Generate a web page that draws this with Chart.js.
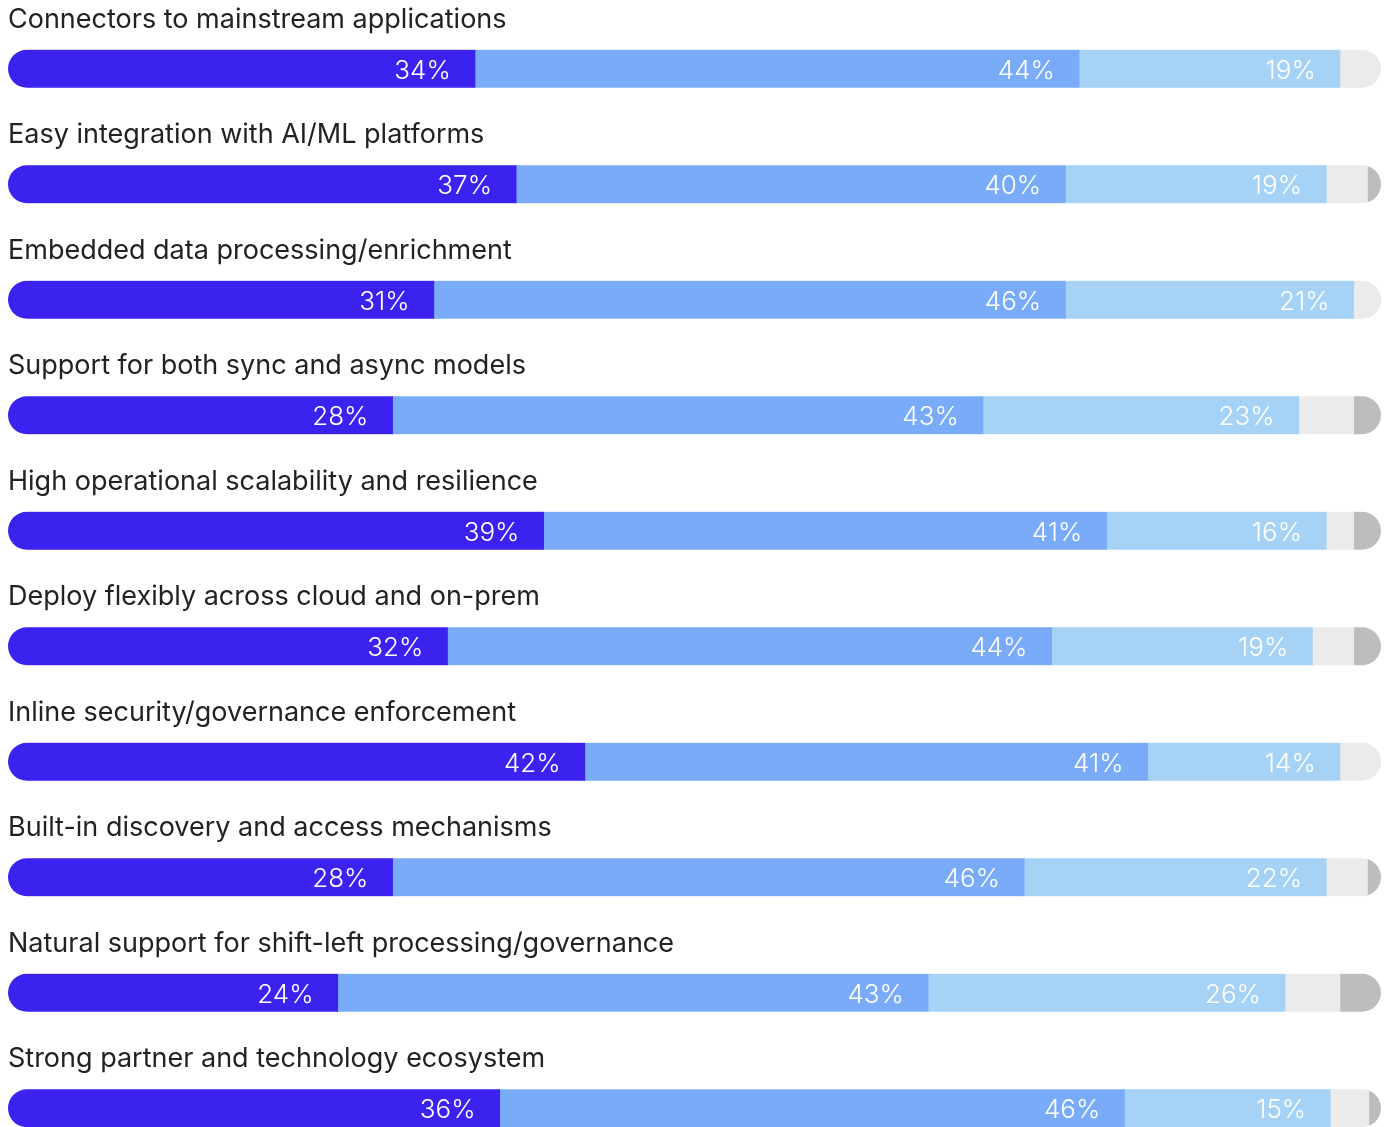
<!DOCTYPE html>
<html>
<head>
<meta charset="utf-8">
<script src="https://cdn.jsdelivr.net/npm/chart.js@4.4.1/dist/chart.umd.min.js"></script>
<style>
  html, body { margin: 0; padding: 0; background: #ffffff; overflow: hidden; }
  #wrap { position: absolute; left: 0; top: 0; width: 1390px; height: 1170px; }
</style>
</head>
<body>
<div id="wrap"><canvas id="c"></canvas></div>
<script>
const categories = [
  "Connectors to mainstream applications",
  "Easy integration with AI/ML platforms",
  "Embedded data processing/enrichment",
  "Support for both sync and async models",
  "High operational scalability and resilience",
  "Deploy flexibly across cloud and on-prem",
  "Inline security/governance enforcement",
  "Built-in discovery and access mechanisms",
  "Natural support for shift-left processing/governance",
  "Strong partner and technology ecosystem"
];
const seriesNames = ["Dark", "Medium", "Light", "Other", "Rest"];
const darkBlue  = [34, 37, 31, 28, 39, 32, 42, 28, 24, 35.8];
const medBlue   = [44, 40, 46, 43, 41, 44, 41, 46, 43, 45.5];
const lightBlue = [19, 19, 21, 23, 16, 19, 14, 22, 26, 15];
const lightGray = [3, 3, 2, 4, 2, 3, 3, 3, 4, 2.8];
const darkGray  = [0, 1, 0, 2, 2, 2, 0, 1, 3, 0.9];
const colors = ["#3c22ee", "#79abf8", "#a6d2f6", "#ebebeb", "#bdbdbd"];
const labelled = [true, true, true, false, false];

const allSeries = [darkBlue, medBlue, lightBlue, lightGray, darkGray];
const totals = categories.map((_, i) => allSeries.reduce((s, a) => s + a[i], 0));

const BAR_H = 38;

const clipPlugin = {
  id: 'roundClip',
  beforeDatasetsDraw(chart) {
    const ctx = chart.ctx;
    const xs = chart.scales.x, ys = chart.scales.y;
    ctx.save();
    ctx.beginPath();
    categories.forEach((_, i) => {
      const y = ys.getPixelForValue(i);
      const x0 = xs.getPixelForValue(0);
      const x1 = xs.getPixelForValue(totals[i]);
      ctx.roundRect(x0, y - BAR_H / 2, x1 - x0, BAR_H, BAR_H / 2);
    });
    ctx.clip();
  },
  afterDatasetsDraw(chart) {
    chart.ctx.restore();
  }
};

const labelPlugin = {
  id: 'labels',
  afterDatasetsDraw(chart) {
    const ctx = chart.ctx;
    const xs = chart.scales.x, ys = chart.scales.y;
    ctx.save();
    ctx.font = '400 27px Inter, "Noto Sans", sans-serif';
    ctx.fillStyle = '#222222';
    ctx.textAlign = 'left';
    ctx.textBaseline = 'alphabetic';
    categories.forEach((c, i) => {
      const y = ys.getPixelForValue(i);
      ctx.fillText(c, xs.getPixelForValue(0), y - BAR_H / 2 - 22);
    });
    ctx.font = '300 26px Inter, "Noto Sans", sans-serif';
    ctx.fillStyle = '#ffffff';
    ctx.textAlign = 'right';
    categories.forEach((c, i) => {
      const y = ys.getPixelForValue(i);
      let cum = 0;
      allSeries.forEach((arr, k) => {
        cum += arr[i];
        if (!labelled[k] || arr[i] <= 0) return;
        const xe = xs.getPixelForValue(cum);
        ctx.fillText(Math.round(arr[i]) + '%', xe - 24, y + 10);
      });
    });
    ctx.restore();
  }
};

new Chart(document.getElementById('c'), {
  type: 'bar',
  data: {
    labels: categories,
    datasets: allSeries.map((arr, k) => ({
      label: seriesNames[k],
      data: arr,
      backgroundColor: colors[k],
      borderWidth: 0,
      borderSkipped: false,
      borderRadius: 0,
      barThickness: BAR_H,
      inflateAmount: 0.5
    }))
  },
  options: {
    indexAxis: 'y',
    responsive: true,
    maintainAspectRatio: false,
    animation: false,
    layout: { padding: { left: 8, right: 9, top: 11, bottom: 4 } },
    scales: {
      x: { stacked: true, min: 0, max: 100, display: false },
      y: { stacked: true, display: false }
    },
    plugins: {
      legend: { display: false },
      tooltip: { enabled: false }
    }
  },
  plugins: [clipPlugin, labelPlugin]
});
</script>
</body>
</html>
